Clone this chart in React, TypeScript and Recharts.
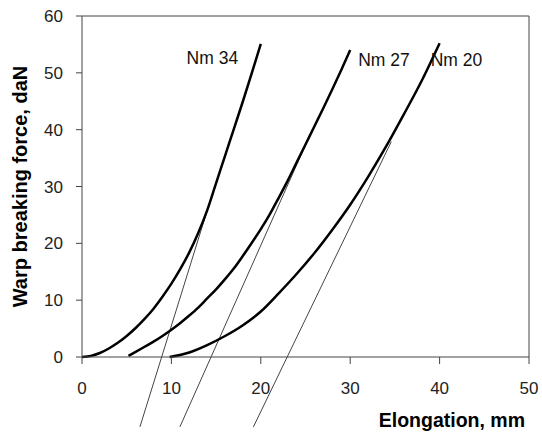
import { LineChart, Line, XAxis, YAxis, ReferenceLine, ReferenceDot } from 'recharts';

const FONT = '"Liberation Sans", Arial, sans-serif';

// breaking force curves (elongation mm -> force daN)
const nm34X = [0, 1, 2, 3, 4, 5, 6, 7, 8, 9, 10, 11, 12, 13, 14, 15, 16, 17, 18, 19, 20];
const nm34Y = [0, 0.2, 0.7, 1.5, 2.5, 3.7, 5.1, 6.7, 8.5, 10.6, 12.9, 15.5, 18.4, 21.8, 25.8, 30.6, 35.4, 40.2, 45.0, 50.0, 55.1];

const nm27X = [5.2, 6, 7, 8, 9, 10, 11, 12, 13, 14, 15, 16, 17, 18, 19, 20, 21, 22, 23, 24, 25, 26, 27, 28, 29, 30];
const nm27Y = [0.2, 0.9, 1.8, 2.7, 3.7, 4.8, 6.0, 7.3, 8.7, 10.3, 11.9, 13.7, 15.6, 17.8, 20.1, 22.5, 25.1, 28.0, 31.0, 34.2, 37.4, 40.6, 43.8, 47.1, 50.5, 54.0];

const nm20X = [9.8, 12, 14, 16, 18, 20, 22, 24, 26, 28, 30, 32, 34, 36, 38, 40];
const nm20Y = [0, 0.8, 2.1, 3.7, 5.6, 8.0, 11.2, 14.6, 18.3, 22.4, 26.8, 31.7, 37.0, 42.7, 48.6, 55.2];

// tangent lines, running below the x axis
const tangent34 = [{ x: 6.48, y: -12.3 }, { x: 14.9, y: 30.3 }];
const tangent27 = [{ x: 10.95, y: -12.3 }, { x: 25.0, y: 37.3 }];
const tangent20 = [{ x: 19.17, y: -12.3 }, { x: 34.6, y: 37.9 }];

const curveNames = ['Nm 34', 'Nm 27', 'Nm 20'];
const labelX = [11.7, 30.9, 39.0];
const labelY = [51.5, 51.2, 51.2];

const xTicks = [0, 10, 20, 30, 40, 50];
const yTicks = [0, 10, 20, 30, 40, 50, 60];

const zip = (xs: number[], ys: number[]) => xs.map((x, i) => ({ x, y: ys[i] }));

const series = [zip(nm34X, nm34Y), zip(nm27X, nm27Y), zip(nm20X, nm20Y)];
const tangents = [tangent34, tangent27, tangent20];

const AXIS = '#444';
const tick = { fontSize: 17, fill: '#222', fontFamily: FONT };

export default function App() {
    return (
        <div style={{ position: 'absolute', left: 0, top: 0, background: '#fff' }}>
            <LineChart width={542} height={439} margin={{ top: 16, right: 13, bottom: 0, left: 0 }}>
                <XAxis dataKey="x" type="number" domain={[0, 50]} ticks={xTicks} allowDataOverflow
                    height={82} tickSize={7} tickMargin={18} tick={tick}
                    axisLine={{ stroke: AXIS }} tickLine={{ stroke: AXIS }}
                    label={{
                        content: ({ viewBox }: any) => (
                            <text x={viewBox.x + viewBox.width - 4} y={viewBox.y + 70} textAnchor="end"
                                fontFamily={FONT} fontSize={19.5} fontWeight="bold" fill="#000">
                                Elongation, mm
                            </text>
                        ),
                    }} />
                <YAxis dataKey="y" type="number" domain={[0, 60]} ticks={yTicks}
                    width={82} tickSize={6} tickMargin={13} tick={tick}
                    axisLine={{ stroke: AXIS }} tickLine={{ stroke: AXIS }}
                    label={{
                        content: ({ viewBox }: any) => {
                            const cy = viewBox.y + viewBox.height / 2;
                            return (
                                <text x={27} y={cy} transform={`rotate(-90 27 ${cy})`} textAnchor="middle"
                                    fontFamily={FONT} fontSize={20} fontWeight="bold" fill="#000">
                                    Warp breaking force, daN
                                </text>
                            );
                        },
                    }} />
                <ReferenceLine y={60} stroke={AXIS} />
                <ReferenceLine x={50} stroke={AXIS} />
                {tangents.map((seg, i) => (
                    <ReferenceLine key={'t' + i} segment={seg} ifOverflow="visible" stroke="#444" strokeWidth={1} />
                ))}
                {series.map((d, i) => (
                    <Line key={curveNames[i]} data={d} dataKey="y" type="monotone" stroke="#000"
                        strokeWidth={2.5} dot={false} isAnimationActive={false} />
                ))}
                {curveNames.map((name, i) => (
                    <ReferenceDot key={name} x={labelX[i]} y={labelY[i]} r={1}
                        shape={(p: any) => (
                            <text x={p.cx} y={p.cy} fontFamily={FONT} fontSize={17.5} fill="#111">{name}</text>
                        )} />
                ))}
            </LineChart>
        </div>
    );
}
